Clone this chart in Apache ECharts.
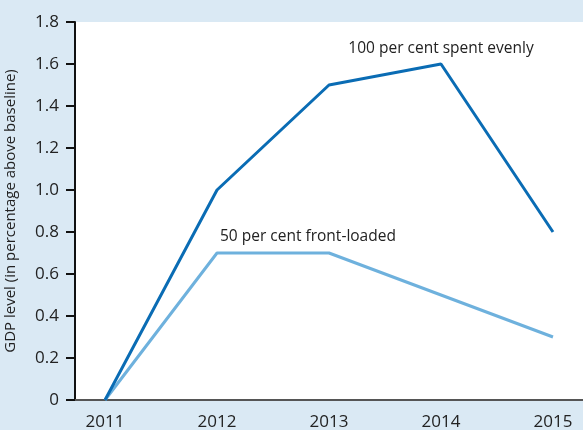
<!DOCTYPE html>
<html>
<head>
<meta charset="utf-8">
<script src="https://cdn.jsdelivr.net/npm/echarts@6/dist/echarts.min.js"></script>
<style>
  html, body { margin: 0; padding: 0; background: #dae9f4; }
  #main { width: 583px; height: 430px; }
</style>
</head>
<body>
<div id="main"></div>
<script>
// 数据
var years = [2011, 2012, 2013, 2014, 2015];
var evenly = [0, 1.0, 1.5, 1.6, 0.8];
var frontLoaded = [0, 0.7, 0.7, 0.5, 0.3];
var evenlyName = "100 per cent spent evenly";
var frontName = "50 per cent front-loaded";
var yTitle = "GDP level (in percentage above baseline)";

var font = "'Open Sans', 'Noto Sans', sans-serif";

function pairs(vals) {
  return years.map(function (y, i) { return [y, vals[i]]; });
}

var chart = echarts.init(document.getElementById("main"));

var evenlyData = pairs(evenly).map(function (p, i) {
  if (i !== 3) return p;
  // 在 2014 点上方标注
  return {
    value: p,
    label: {
      show: true, position: "top", distance: 7,
      formatter: evenlyName, color: "#222", fontSize: 15.5, fontFamily: font
    }
  };
});

var frontData = pairs(frontLoaded).map(function (p, i) {
  if (i !== 1) return p;
  return {
    value: p,
    label: {
      show: true, position: [3, -24],
      formatter: frontName, color: "#222", fontSize: 15.5, fontFamily: font
    }
  };
});

chart.setOption({
  animation: false,
  backgroundColor: "#dae9f4",
  grid: {
    left: 75, right: 0, top: 22, bottom: 30,
    outerBoundsMode: "none",
    show: true, backgroundColor: "#ffffff", borderWidth: 0
  },
  xAxis: {
    type: "value",
    min: 2010.732,
    max: 2015.268,
    splitLine: { show: false },
    axisTick: { show: false },
    axisLine: { lineStyle: { color: "#555", width: 2 } },
    axisLabel: {
      customValues: years,
      color: "#222", fontSize: 17, fontFamily: font, margin: 14,
      formatter: function (v) { return String(v); }
    }
  },
  yAxis: {
    type: "value",
    min: 0, max: 1.8, interval: 0.2,
    name: yTitle,
    nameLocation: "middle",
    nameGap: 57,
    nameTextStyle: { color: "#222", fontSize: 15, fontFamily: font },
    splitLine: { show: false },
    axisLine: { show: true, lineStyle: { color: "#111", width: 2 } },
    axisTick: { show: true, length: 9, lineStyle: { color: "#111", width: 2 } },
    axisLabel: {
      color: "#222", fontSize: 17, fontFamily: font, margin: 16,
      formatter: function (v) { return v === 0 ? "0" : v.toFixed(1); }
    }
  },
  series: [
    {
      name: evenlyName, type: "line", data: evenlyData,
      symbol: "circle", symbolSize: 0, showSymbol: true,
      lineStyle: { color: "#0a6cb4", width: 3 },
      itemStyle: { color: "#0a6cb4" }, z: 3
    },
    {
      name: frontName, type: "line", data: frontData,
      symbol: "circle", symbolSize: 0, showSymbol: true,
      lineStyle: { color: "#6eb1dd", width: 3 },
      itemStyle: { color: "#6eb1dd" }, z: 2
    }
  ]
});
</script>
</body>
</html>
